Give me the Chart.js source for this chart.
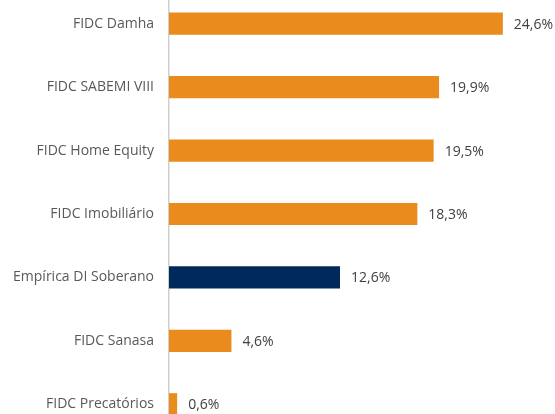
<!DOCTYPE html>
<html>
<head>
<meta charset="utf-8">
<script src="https://cdn.jsdelivr.net/npm/chart.js@4"></script>
<style>
    html, body { margin: 0; padding: 0; background: #fff; overflow: hidden; }
    #chart { position: absolute; left: 0; top: -8px; }
</style>
</head>
<body>
<canvas id="chart" width="555" height="444"></canvas>
<script>
const categories = ['FIDC Damha', 'FIDC SABEMI VIII', 'FIDC Home Equity', 'FIDC Imobiliário', 'Empírica DI Soberano', 'FIDC Sanasa', 'FIDC Precatórios'];
const values = [24.6, 19.9, 19.5, 18.3, 12.6, 4.6, 0.6];
const highlighted = 'Empírica DI Soberano';

const ORANGE = '#EA8B1E';
const NAVY = '#002A5C';

// draws "24,6%" style labels right after each bar
const valueLabels = {
    id: 'valueLabels',
    afterDatasetsDraw(chart) {
        const ctx = chart.ctx;
        const meta = chart.getDatasetMeta(0);
        ctx.save();
        ctx.font = '14px "Open Sans"';
        ctx.fillStyle = '#404040';
        ctx.textAlign = 'left';
        ctx.textBaseline = 'middle';
        meta.data.forEach((bar, i) => {
            const txt = values[i].toFixed(1).replace('.', ',') + '%';
            ctx.fillText(txt, bar.x + 11, bar.y + 1);
        });
        ctx.restore();
    }
};

new Chart(document.getElementById('chart'), {
    type: 'bar',
    data: {
        labels: categories,
        datasets: [{
            data: values,
            backgroundColor: ctx => categories[ctx.dataIndex] === highlighted ? NAVY : ORANGE,
            borderWidth: 0,
            barPercentage: 0.35,
            categoryPercentage: 1
        }]
    },
    options: {
        indexAxis: 'y',
        responsive: false,
        animation: false,
        layout: { padding: { left: 0, right: 6, top: 0, bottom: 0 } },
        plugins: {
            legend: { display: false },
            tooltip: { enabled: false }
        },
        scales: {
            x: {
                display: false,
                min: 0,
                max: 28
            },
            y: {
                afterFit(scale) {
                    scale.width = 169;
                    scale.paddingTop = 0;
                    scale.paddingBottom = 0;
                },
                grid: { display: false, drawTicks: false },
                border: { display: true, color: '#cfcfcf', width: 1.5 },
                ticks: {
                    padding: 15,
                    color: '#595959',
                    font: { family: '"Open Sans"', size: 14 }
                }
            }
        }
    },
    plugins: [valueLabels]
});
</script>
</body>
</html>
